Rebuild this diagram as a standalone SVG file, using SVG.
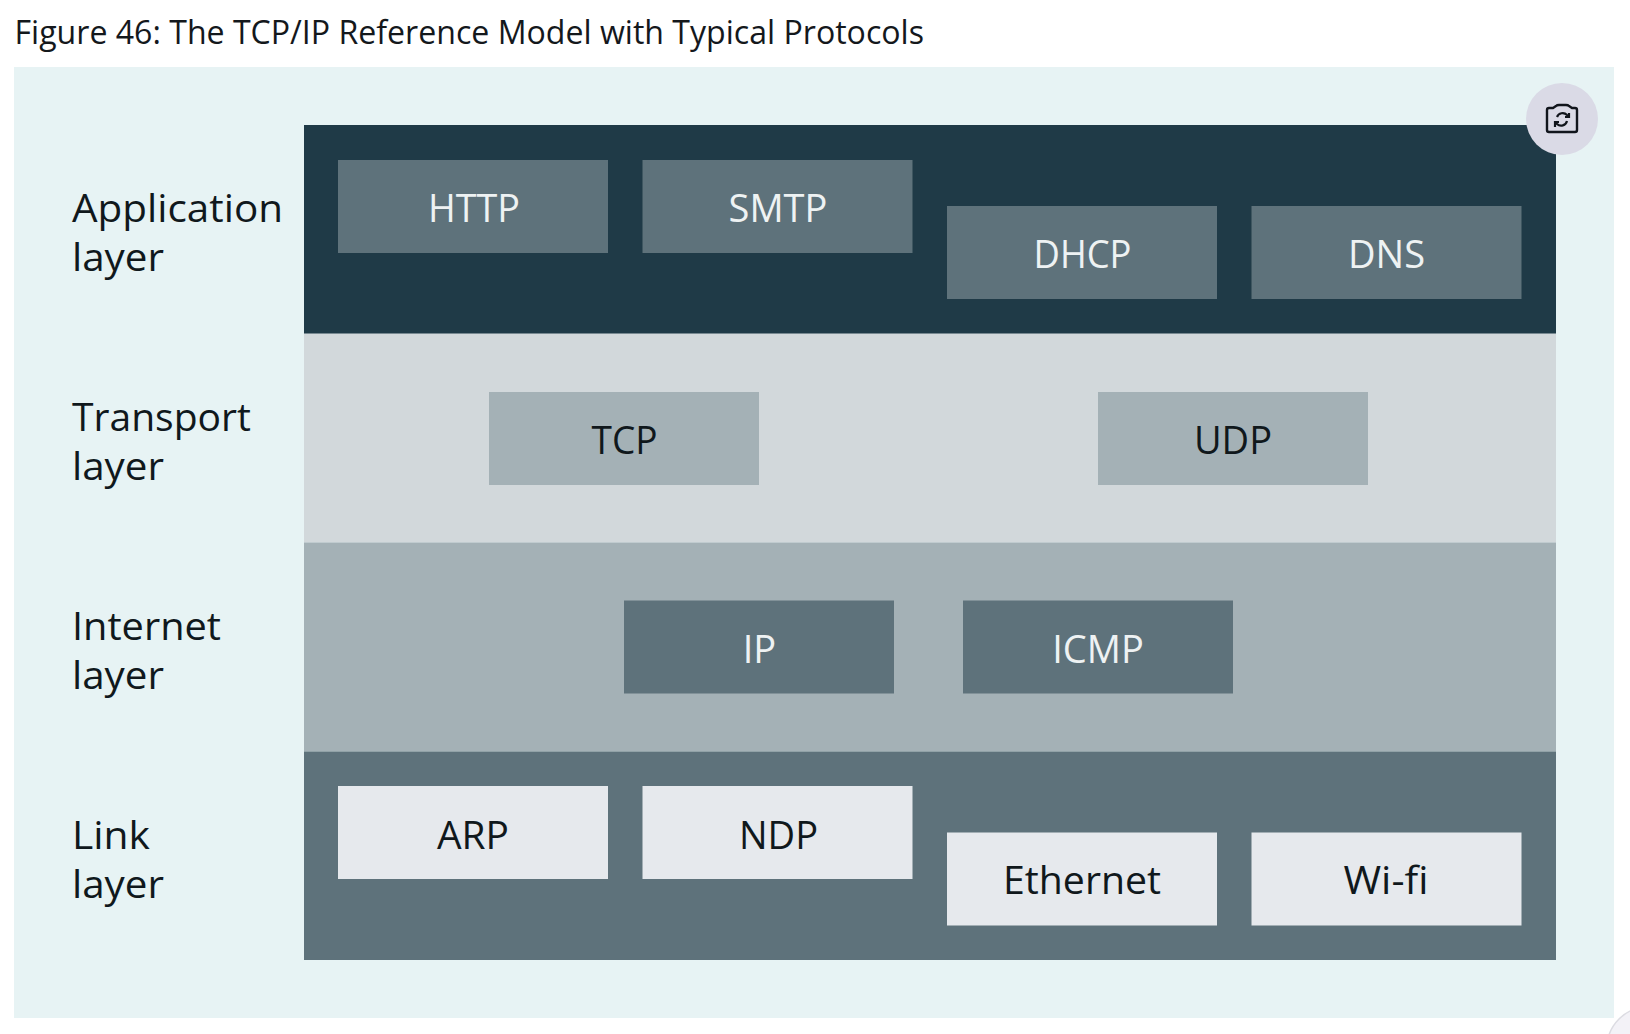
<svg xmlns="http://www.w3.org/2000/svg" width="1630" height="1034" viewBox="0 0 1630 1034">
<style>
text{font-family:"Open Sans","Noto Sans","Liberation Sans",sans-serif}
.lab{font-size:39px;fill:#10181c}
.box{font-size:38px;text-anchor:middle}
.w{fill:#eef2f3}.d{fill:#10181c}
.b1{fill:#5e727b}.b2{fill:#a4b1b6}.b3{fill:#e6e9ed}
</style>
<rect width="1630" height="1034" fill="#fff"/>
<text id="title" x="14.500" y="44" font-size="33" fill="#14181c" textLength="909.500" lengthAdjust="spacingAndGlyphs">Figure 46: The TCP/IP Reference Model with Typical Protocols</text>
<rect id="panel" x="14" y="67" width="1600" height="951" fill="#e7f3f4"/>
<g id="application-layer">
<rect x="304" y="125" width="1252" height="209" fill="#1f3a47"/>
<text class="lab" x="72" y="222" textLength="211" lengthAdjust="spacingAndGlyphs">Application</text>
<text class="lab" x="72" y="271" textLength="92" lengthAdjust="spacingAndGlyphs">layer</text>
</g>
<g id="transport-layer">
<rect x="304" y="333.500" width="1252" height="209" fill="#d2d8db"/>
<text class="lab" x="72" y="431" textLength="179" lengthAdjust="spacingAndGlyphs">Transport</text>
<text class="lab" x="72" y="480" textLength="92" lengthAdjust="spacingAndGlyphs">layer</text>
</g>
<g id="internet-layer">
<rect x="304" y="542.500" width="1252" height="209" fill="#a4b1b6"/>
<text class="lab" x="72" y="640" textLength="149" lengthAdjust="spacingAndGlyphs">Internet</text>
<text class="lab" x="72" y="689" textLength="92" lengthAdjust="spacingAndGlyphs">layer</text>
</g>
<g id="link-layer">
<rect x="304" y="751.500" width="1252" height="208.500" fill="#5e727b"/>
<text class="lab" x="72" y="849" textLength="78" lengthAdjust="spacingAndGlyphs">Link</text>
<text class="lab" x="72" y="898" textLength="92" lengthAdjust="spacingAndGlyphs">layer</text>
</g>
<g id="http"><rect class="b1" x="338" y="160" width="270" height="93"/><text class="box w" x="474" y="222" textLength="92" lengthAdjust="spacingAndGlyphs">HTTP</text></g>
<g id="smtp"><rect class="b1" x="642.500" y="160" width="270" height="93"/><text class="box w" x="778" y="222">SMTP</text></g>
<g id="dhcp"><rect class="b1" x="947" y="206" width="270" height="93"/><text class="box w" x="1082.500" y="268" textLength="98" lengthAdjust="spacingAndGlyphs">DHCP</text></g>
<g id="dns"><rect class="b1" x="1251.500" y="206" width="270" height="93"/><text class="box w" x="1386.500" y="268">DNS</text></g>
<g id="tcp"><rect class="b2" x="489" y="392" width="270" height="93"/><text class="box d" x="624.500" y="454" textLength="66" lengthAdjust="spacingAndGlyphs">TCP</text></g>
<g id="udp"><rect class="b2" x="1098" y="392" width="270" height="93"/><text class="box d" x="1233" y="454">UDP</text></g>
<g id="ip"><rect class="b1" x="624" y="600.500" width="270" height="93"/><text class="box w" x="759.500" y="663">IP</text></g>
<g id="icmp"><rect class="b1" x="963" y="600.500" width="270" height="93"/><text class="box w" x="1098" y="663">ICMP</text></g>
<g id="arp"><rect class="b3" x="338" y="786" width="270" height="93"/><text class="box d" x="473" y="849" textLength="72" lengthAdjust="spacingAndGlyphs">ARP</text></g>
<g id="ndp"><rect class="b3" x="642.500" y="786" width="270" height="93"/><text class="box d" x="778.500" y="849">NDP</text></g>
<g id="ethernet"><rect class="b3" x="947" y="832.500" width="270" height="93"/><text class="box d" x="1082" y="894" textLength="158" lengthAdjust="spacingAndGlyphs">Ethernet</text></g>
<g id="wifi"><rect class="b3" x="1251.500" y="832.500" width="270" height="93"/><text class="box d" x="1386" y="894" textLength="85" lengthAdjust="spacingAndGlyphs">Wi-fi</text></g>
<g id="connectors"></g>
<g id="camera-button">
<circle cx="1562" cy="119" r="36" fill="#dadae6"/>
<path d="M1553 108 L1556 106 Q1557 105 1559 105 H1566 Q1568 105 1569 106 L1572 108 H1575 Q1577 108 1577 110 V130 Q1577 132 1575 132 H1549 Q1547 132 1547 130 V110 Q1547 108 1549 108 Z" fill="none" stroke="#11151c" stroke-width="2.400" stroke-linejoin="round"/>
<path d="M1557 117 A6 6 0 0 1 1567 115 L1569 117 M1569 113 V117 H1565 M1567 121 A6 6 0 0 1 1557 124 L1555 122 M1555 127 V122 H1559" fill="none" stroke="#11151c" stroke-width="2.200"/>
</g>
<circle id="corner" cx="1648" cy="1048" r="41" fill="#f3f2f7" stroke="#dcdce2" stroke-width="1.500"/>
</svg>
